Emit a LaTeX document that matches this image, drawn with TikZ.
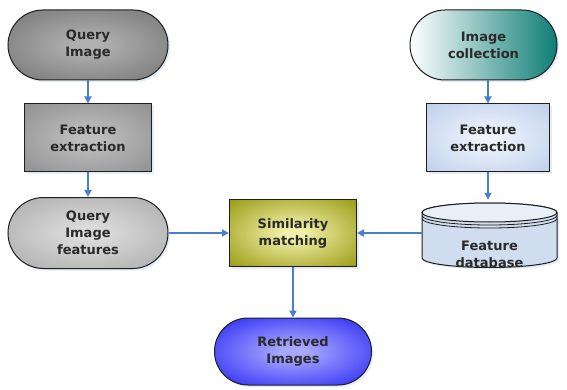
\documentclass[tikz,border=0pt]{standalone}
\usepackage{fontspec}
\setmainfont{DejaVu Sans}
\usetikzlibrary{shapes.misc,arrows.meta,shadows}
\definecolor{txt}{HTML}{2A2A2A}
\definecolor{edge}{HTML}{1E1E1E}
\definecolor{arrc}{HTML}{4A80C8}
\definecolor{dbfill}{HTML}{D0DDEE}
\definecolor{dbtop}{HTML}{E8EFF8}
\definecolor{qiIn}{HTML}{B0B0B0}\definecolor{qiOut}{HTML}{6E6E6E}
\definecolor{feIn}{HTML}{BEBEBE}\definecolor{feOut}{HTML}{8A8A8A}
\definecolor{qfIn}{HTML}{DCDCDC}\definecolor{qfOut}{HTML}{A4A4A4}
\definecolor{fbIn}{HTML}{EEF3FB}\definecolor{fbOut}{HTML}{B8CBE9}
\definecolor{smIn}{HTML}{F0F0A8}\definecolor{smOut}{HTML}{8E8E00}
\definecolor{rtIn}{HTML}{A8A8FF}\definecolor{rtOut}{HTML}{1414F2}
\definecolor{tealR}{HTML}{0E7E76}
\newcommand{\mkshade}[3]{\pgfdeclareradialshading{#1}{\pgfpointorigin}{color(0bp)=(#2); color(4bp)=(#2); color(40bp)=(#3); color(50bp)=(#3)}}
\mkshade{qishade}{qiIn}{qiOut}
\mkshade{feshade}{feIn}{feOut}
\mkshade{qfshade}{qfIn}{qfOut}
\mkshade{fbshade}{fbIn}{fbOut}
\mkshade{smshade}{smIn}{smOut}
\mkshade{rtshade}{rtIn}{rtOut}
\tikzset{
  lbl/.style={font=\bfseries\fontsize{13}{17}\selectfont, text=txt, align=center, inner sep=0pt},
  glow/.style={drop shadow={shadow xshift=2pt, shadow yshift=-2pt, fill=arrc!25, opacity=0.6}},
  pill/.style={rounded rectangle, draw=edge, line width=1pt, lbl, glow},
  boxn/.style={rectangle, draw=edge, line width=1pt, lbl, glow},
  arr/.style={draw=arrc, line width=1.8pt, -{Triangle[length=7pt,width=7pt]}},
}
\begin{document}
\begin{tikzpicture}[x=1pt,y=1pt]
\useasboundingbox (0,0) rectangle (567,-390);
% left column
\node[pill, minimum width=160pt, minimum height=70pt, shading=qishade] (qi) at (88,-45) {Query\\Image};
\node[boxn, minimum width=127pt, minimum height=68pt, shading=feshade] (fe1) at (88,-138) {Feature\\extraction};
\node[pill, minimum width=160pt, minimum height=71pt, shading=qfshade] (qif) at (88,-233) {Query\\Image\\features};
% right column
\node[pill, minimum width=147pt, minimum height=70pt, left color=white, right color=tealR] (ic) at (483.5,-45) {Image\\collection};
\node[boxn, minimum width=123pt, minimum height=68pt, shading=fbshade] (fe2) at (488,-138) {Feature\\extraction};
% database cylinder
\fill[arrc!25, opacity=0.6] (424,-214.5) -- (424,-260) arc[start angle=180,end angle=360,x radius=67.5,y radius=9.5] -- (559,-214.5) -- cycle;
\filldraw[fill=dbfill, draw=edge, line width=1pt] (422,-212.5) -- (422,-258) arc[start angle=180,end angle=360,x radius=67.5,y radius=9.5] -- (557,-212.5) arc[start angle=0,end angle=180,x radius=67.5,y radius=9.5] -- cycle;
\draw[fill=dbtop, draw=edge, line width=1pt] (489.5,-212.5) ellipse [x radius=67.5, y radius=9.5];
\draw[edge, line width=0.8pt] (422,-215.5) arc[start angle=180,end angle=360,x radius=67.5,y radius=9.5];
\draw[edge, line width=0.8pt] (422,-218.5) arc[start angle=180,end angle=360,x radius=67.5,y radius=9.5];
\node[minimum width=135pt, minimum height=68pt, inner sep=0pt] (db) at (489.5,-234) {};
\node[lbl] (dbt) at (489.5,-254) {Feature\\database};
% middle
\node[boxn, minimum width=127pt, minimum height=67pt, shading=smshade] (sim) at (293,-233) {Similarity\\matching};
\node[pill, minimum width=157pt, minimum height=67pt, shading=rtshade] (ret) at (293,-351.5) {Retrieved\\Images};
% connectors
\draw[arr] (qi.south) -- (fe1.north);
\draw[arr] (fe1.south) -- (fe1.south |- qif.north);
\draw[arr] (qif.east) -- (qif.east -| sim.west);
\draw[arr] (db.west |- sim.east) -- (sim.east);
\draw[arr] (sim.south) -- (ret.north);
\draw[arr] (fe2.north |- ic.south) -- (fe2.north);
\draw[arr] (fe2.south) -- (fe2.south |- db.north);
\end{tikzpicture}
\end{document}
